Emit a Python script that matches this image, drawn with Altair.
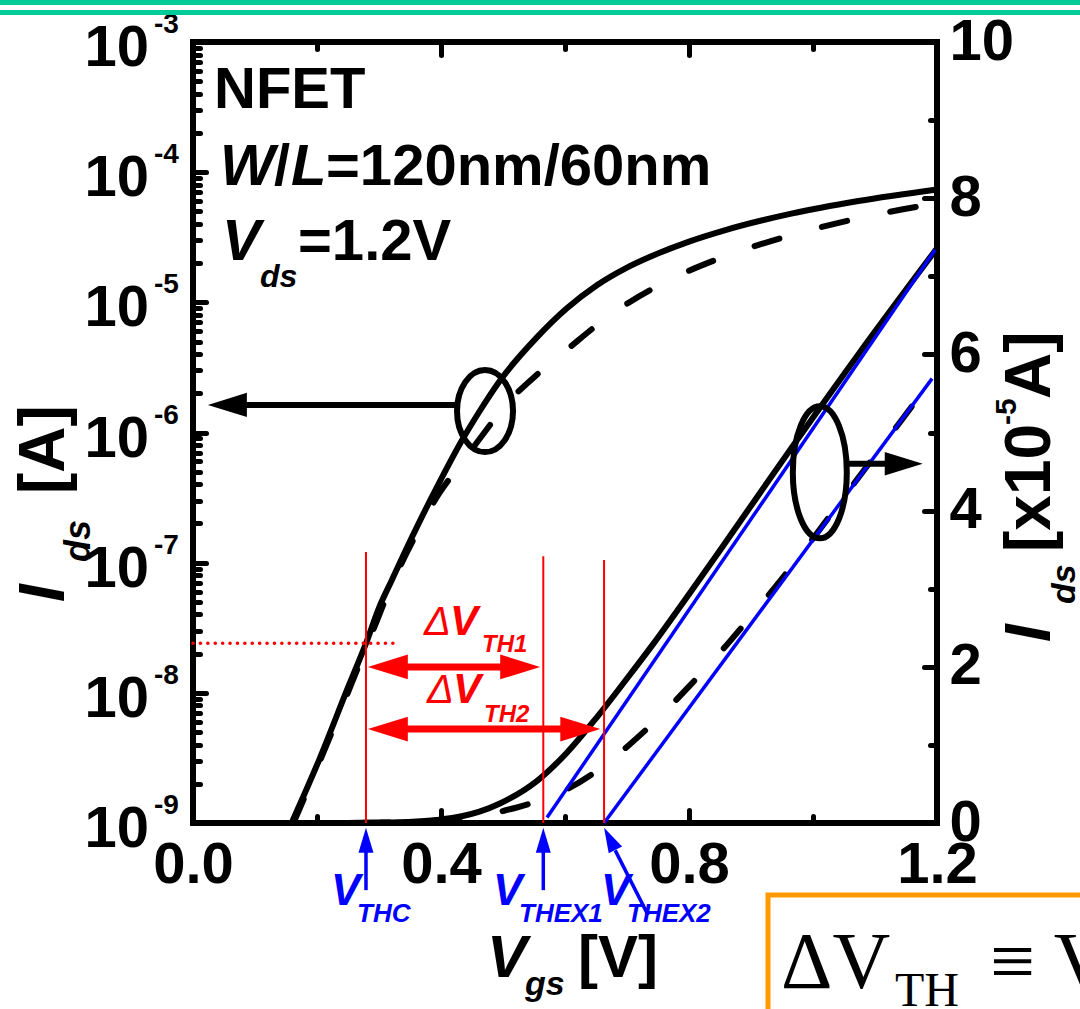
import altair as alt
import pandas as pd

# ---------------- values ----------------
# fresh device (solid curve), Vgs [V] and Ids [A]
vgs_fresh = [0.159, 0.204, 0.250, 0.279, 0.300, 0.321, 0.354, 0.397, 0.435, 0.462,
             0.495, 0.555, 0.603, 0.652, 0.700, 0.743, 0.800, 0.856, 0.965, 1.073, 1.200]
ids_fresh = [1.0e-9, 3.1e-9, 1.1e-8, 2.4e-8, 4.5e-8, 7.4e-8, 1.6e-7, 4.1e-7, 8.9e-7, 1.45e-6,
             2.5e-6, 5.4e-6, 9.0e-6, 1.36e-5, 1.85e-5, 2.30e-5, 2.93e-5, 3.56e-5, 4.80e-5, 6.00e-5, 7.36e-5]

# stressed device (dashed curve)
vgs_stress = [0.162, 0.206, 0.282, 0.324, 0.357, 0.397, 0.433, 0.470, 0.503, 0.559, 0.605,
              0.657, 0.702, 0.754, 0.799, 0.851, 0.897, 0.949, 0.994, 1.043, 1.091, 1.143, 1.192]
ids_stress = [1.0e-9, 3.1e-9, 2.4e-8, 7.4e-8, 1.55e-7, 3.4e-7, 5.8e-7, 1.0e-6, 1.6e-6, 2.9e-6, 4.4e-6,
              7.0e-6, 9.9e-6, 1.37e-5, 1.74e-5, 2.19e-5, 2.62e-5, 3.12e-5, 3.58e-5, 4.10e-5, 4.61e-5, 5.16e-5, 5.68e-5]

# extrapolation (tangent) lines on the linear axis [x1e-5 A]
tan_v0 = [0.571, 0.663]
tan_i0 = [0.07, 0.0]
tan_v1 = [1.197, 1.192]
tan_i1 = [7.34, 5.69]

# threshold voltages and their red markers
vth_labels = ["THC", "THEX1", "THEX2"]
vth_values = [0.279, 0.565, 0.663]
vth_line_top = [1.21e-7, 1.12e-7, 1.05e-7]

# delta-VTH double arrows
dvth_labels = ["TH1", "TH2"]
dvth_from = [0.282, 0.282]
dvth_to = [0.560, 0.657]
dvth_level = [1.58e-8, 5.27e-9]

# constant-current criterion (dotted red)
cc_current = [2.4e-8]
cc_vgs_end = [0.329]

# group ellipses and their arrows
ell_log_vgs, ell_log_ids = [0.471], [1.46e-6]
ell_lin_vgs, ell_lin_i = [1.011], [4.49]
arr_log_tip, arr_log_tail, arr_log_ids = [0.024], [0.426], [1.63e-6]
arr_lin_tip, arr_lin_tail, arr_lin_i = [1.177], [1.055], [4.60]

# blue VTH pointer arrows (below the axis, linear units)
ptr_tip_v = [0.279, 0.565, 0.663]
ptr_tip_i = [-0.06, -0.06, -0.06]
ptr_back_v = [0.279, 0.565, 0.681]
ptr_back_i = [-0.35, -0.35, -0.35]
ptr_tail_v = [0.279, 0.565, 0.734]
ptr_tail_i = [-0.86, -0.86, -1.18]
ptr_angle = [0, 0, 333]

# axis ticks
x_labels = [0.0, 0.4, 0.8, 1.2]
x_major_inner = [0.4, 0.8]
x_minor = [0.2, 0.6, 1.0]
log_decades = [1e-3, 1e-4, 1e-5, 1e-6, 1e-7, 1e-8, 1e-9]
log_exponents = ["-3", "-4", "-5", "-6", "-7", "-8", "-9"]
log_minor = [m * 10.0 ** e for e in range(-9, -3) for m in range(2, 10)]
lin_labels = [0, 2, 4, 6, 8, 10]
lin_major_inner = [2, 4, 6, 8]
lin_minor = [1, 3, 5, 7, 9]

# ---------------- layout / style ----------------
FONT = "Liberation Sans"
SERIF = "Liberation Serif"
W, H = 744, 781
PL, PT = 193, 42
RED, BLUE = "#FF0000", "#0000FF"

xs = alt.Scale(domain=[0.0, 1.2], nice=False, zero=False)
ylog = alt.Scale(type="log", domain=[1e-9, 1e-3], nice=False)
ylin = alt.Scale(domain=[0.0, 10.0], nice=False, zero=False)


def X(f, axis=None):
    return alt.X(f"{f}:Q", scale=xs, axis=axis)


def YL(f, axis=None):
    return alt.Y(f"{f}:Q", scale=ylog, axis=axis)


def YN(f, axis=None):
    return alt.Y(f"{f}:Q", scale=ylin, axis=axis)


def ellipse_path(a):
    k = 0.5523 * a
    return (f"M0,-1 C{k:.3f},-1 {a:.3f},-0.552 {a:.3f},0 C{a:.3f},0.552 {k:.3f},1 0,1 "
            f"C{-k:.3f},1 {-a:.3f},0.552 {-a:.3f},0 C{-a:.3f},-0.552 {-k:.3f},-1 0,-1 Z")


LEFT_HEAD = "M0,0 L2,-0.62 L2,0.62 Z"
RIGHT_HEAD = "M0,0 L-2,-0.62 L-2,0.62 Z"
UP_HEAD = "M0,0 L0.6,2 L-0.6,2 Z"

fresh = pd.DataFrame({"Vgs": vgs_fresh, "Ids": ids_fresh})
fresh["I5"] = fresh["Ids"] * 1e5
stress = pd.DataFrame({"Vgs": vgs_stress, "Ids": ids_stress})
stress["I5"] = stress["Ids"] * 1e5

line_style = dict(color="black", strokeWidth=6, interpolate="monotone", strokeJoin="round")
dash_style = dict(strokeDash=[26, 44], strokeCap="round")

log_solid = alt.Chart(fresh).mark_line(**line_style).encode(x=X("Vgs"), y=YL("Ids"))
log_dash = alt.Chart(stress).mark_line(**line_style, **dash_style).encode(x=X("Vgs"), y=YL("Ids"))
lin_solid = alt.Chart(fresh).mark_line(**line_style).encode(x=X("Vgs"), y=YN("I5"))
lin_dash = alt.Chart(stress).mark_line(**line_style, **dash_style).encode(x=X("Vgs"), y=YN("I5"))

tan_df = pd.DataFrame({"v0": tan_v0, "i0": tan_i0, "v1": tan_v1, "i1": tan_i1})
tangents = alt.Chart(tan_df).mark_rule(color=BLUE, strokeWidth=3.5).encode(
    x=X("v0"), y=YN("i0"), x2=alt.X2("v1"), y2=alt.Y2("i1"))

# right ellipse + arrow
ell_lin = alt.Chart(pd.DataFrame({"V": ell_lin_vgs, "I": ell_lin_i})).mark_point(
    shape=ellipse_path(27 / 66), size=132 ** 2, filled=False, color="black",
    strokeWidth=6, opacity=1).encode(x=X("V"), y=YN("I"))
arr_lin_df = pd.DataFrame({"tip": arr_lin_tip, "tail": arr_lin_tail, "I": arr_lin_i})
arr_lin_shaft = alt.Chart(arr_lin_df).transform_calculate(back="datum.tip - 0.05").mark_rule(
    color="black", strokeWidth=6).encode(x=X("tail"), x2=alt.X2("back"), y=YN("I"))
arr_lin_head = alt.Chart(arr_lin_df).mark_point(
    shape=RIGHT_HEAD, size=38 ** 2, filled=True, color="black", opacity=1).encode(x=X("tip"), y=YN("I"))

# blue pointer arrows
ptr_df = pd.DataFrame({"tv": ptr_tip_v, "ti": ptr_tip_i, "bv": ptr_back_v, "bi": ptr_back_i,
                       "lv": ptr_tail_v, "li": ptr_tail_i, "ang": ptr_angle})
ptr_shaft = alt.Chart(ptr_df).mark_rule(color=BLUE, strokeWidth=3.5).encode(
    x=X("bv"), y=YN("bi"), x2=alt.X2("lv"), y2=alt.Y2("li"))
ptr_head = alt.Chart(ptr_df).mark_point(shape=UP_HEAD, size=25 ** 2, filled=True, color=BLUE, opacity=1).encode(
    x=X("tv"), y=YN("ti"), angle=alt.Angle("ang:Q", scale=None))

# red annotations (log units)
vth_df = pd.DataFrame({"V": vth_values, "top": vth_line_top, "bottom": [1e-9] * 3})
red_v = alt.Chart(vth_df).mark_rule(color=RED, strokeWidth=2).encode(x=X("V"), y=YL("bottom"), y2=alt.Y2("top"))
cc_df = pd.DataFrame({"v0": [0.0], "v1": cc_vgs_end, "I": cc_current})
cc_line = alt.Chart(cc_df).mark_rule(color=RED, strokeWidth=3.5, strokeDash=[0.1, 7.3], strokeCap="round").encode(
    x=X("v0"), x2=alt.X2("v1"), y=YL("I"))
dv_df = pd.DataFrame({"a": dvth_from, "b": dvth_to, "I": dvth_level})
dv_shaft = alt.Chart(dv_df).transform_calculate(a2="datum.a + 0.05", b2="datum.b - 0.05").mark_rule(
    color=RED, strokeWidth=7).encode(x=X("a2"), x2=alt.X2("b2"), y=YL("I"))
dv_left = alt.Chart(dv_df).mark_point(shape=LEFT_HEAD, size=40 ** 2, filled=True, color=RED, opacity=1).encode(
    x=X("a"), y=YL("I"))
dv_right = alt.Chart(dv_df).mark_point(shape=RIGHT_HEAD, size=40 ** 2, filled=True, color=RED, opacity=1).encode(
    x=X("b"), y=YL("I"))

# left ellipse + arrow
ell_log = alt.Chart(pd.DataFrame({"V": ell_log_vgs, "I": ell_log_ids})).mark_point(
    shape=ellipse_path(28 / 41), size=82 ** 2, filled=False, color="black",
    strokeWidth=6, opacity=1).encode(x=X("V"), y=YL("I"))
arr_log_df = pd.DataFrame({"tip": arr_log_tip, "tail": arr_log_tail, "I": arr_log_ids})
arr_log_shaft = alt.Chart(arr_log_df).transform_calculate(back="datum.tip + 0.05").mark_rule(
    color="black", strokeWidth=6).encode(x=X("back"), x2=alt.X2("tail"), y=YL("I"))
arr_log_head = alt.Chart(arr_log_df).mark_point(
    shape=LEFT_HEAD, size=39 ** 2, filled=True, color="black", opacity=1).encode(x=X("tip"), y=YL("I"))

# log axis tick labels 10^n
dec_df = pd.DataFrame({"V": [0.0] * len(log_decades), "I": log_decades, "e": log_exponents})
tens = alt.Chart(dec_df).mark_text(text="10", align="right", baseline="alphabetic", dx=-44, dy=24,
                                   fontSize=58, fontWeight="bold", font=FONT, color="black").encode(
    x=X("V"), y=YL("I"))
exps = alt.Chart(dec_df).mark_text(align="left", baseline="alphabetic", dx=-39, dy=-9,
                                   fontSize=28, fontWeight="bold", font=FONT, color="black").encode(
    x=X("V"), y=YL("I"), text="e:N")

# ---------------- axes (inward ticks via offset axes) ----------------
def tick_axis(orient, values, size):
    off = -H if orient in ("top", "bottom") else -W
    return alt.Axis(orient=orient, values=values, offset=off, tickSize=size, tickWidth=5,
                    tickColor="black", tickCap="round", labels=False, domain=False, grid=False, title=None)


x_label_axis = alt.Axis(orient="bottom", values=x_labels, ticks=False, tickSize=0, domain=False, grid=False,
                        labelFontSize=58, labelFont=FONT, labelFontWeight="bold", labelColor="black",
                        labelPadding=13, labelFlush=False, labelOverlap=False, format=".1f", title=None)
y_lin_label_axis = alt.Axis(orient="right", values=lin_labels, ticks=False, tickSize=0, domain=False, grid=False,
                            labelFontSize=58, labelFont=FONT, labelFontWeight="bold", labelColor="black",
                            labelPadding=12, labelFlush=False, labelOverlap=False, labelBaseline="middle",
                            format="d", title=None)

holder_df = pd.DataFrame({"V": [0.6], "I": [1e-6], "L": [5.0]})


def holder_log(xaxis=None, yaxis=None):
    return alt.Chart(holder_df).mark_point(opacity=0, size=1).encode(x=X("V", xaxis), y=YL("I", yaxis))


def holder_lin(xaxis=None, yaxis=None):
    return alt.Chart(holder_df).mark_point(opacity=0, size=1).encode(x=X("V", xaxis), y=YN("L", yaxis))


log_curves = alt.layer(log_solid, log_dash)

lin_group = alt.layer(
    lin_solid, lin_dash, tangents, ell_lin, arr_lin_shaft, arr_lin_head, ptr_shaft, ptr_head,
    holder_lin(yaxis=y_lin_label_axis),
    holder_lin(yaxis=tick_axis("left", lin_major_inner, 13)),
    holder_lin(yaxis=tick_axis("left", lin_minor, 7)),
).resolve_axis(x="independent", y="independent")

log_annot = alt.layer(
    red_v, cc_line, dv_shaft, dv_left, dv_right, ell_log, arr_log_shaft, arr_log_head, tens, exps,
    holder_log(xaxis=x_label_axis, yaxis=tick_axis("right", log_decades, 13)),
    holder_log(xaxis=tick_axis("top", x_major_inner, 13), yaxis=tick_axis("right", log_minor, 7)),
    holder_log(xaxis=tick_axis("top", x_minor, 7)),
    holder_log(xaxis=tick_axis("bottom", x_major_inner, 13)),
    holder_log(xaxis=tick_axis("bottom", x_minor, 7)),
).resolve_axis(x="independent", y="independent")

# ---------------- free text / decoration (pixel positions on the page) ----------------
one = pd.DataFrame({"k": [0]})


def txt(text, px, py, size, italic=False, bold=True, color="black", angle=0, font=FONT):
    return alt.Chart(one).mark_text(
        text=text, fontSize=size, fontStyle="italic" if italic else "normal",
        fontWeight="bold" if bold else "normal", color=color, font=font,
        align="left", baseline="alphabetic", angle=angle,
    ).encode(x=alt.value(px - PL), y=alt.value(py - PT))


texts = [
    # text block
    txt("NFET", 214, 108, 58),
    txt("W", 220, 185, 58, italic=True),
    txt("/", 274, 185, 58),
    txt("L", 291, 185, 58, italic=True),
    txt("=120nm/60nm", 326, 185, 58),
    txt("V", 222, 260, 58, italic=True),
    txt("ds", 260, 287, 32, italic=True),
    txt("=1.2V", 298, 260, 58),
    # left axis title
    txt("I", 64, 602, 64, italic=True, angle=270),
    txt("ds", 90, 562, 36, italic=True, angle=270),
    txt("[A]", 64, 494, 64, angle=270),
    # right axis title
    txt("I", 1050, 642, 64, italic=True, angle=270),
    txt("ds", 1075, 604, 34, italic=True, angle=270),
    txt("[x10", 1050, 552, 64, angle=270),
    txt("-5", 1016, 425, 30, angle=270),
    txt(" A]", 1050, 399, 64, angle=270),
    # x axis title
    txt("V", 487, 977, 60, italic=True),
    txt("gs", 525, 995, 34, italic=True),
    txt("[V]", 578, 977, 60),
    # blue threshold labels
    txt("V", 331, 905, 44, italic=True, color=BLUE),
    txt("THC", 357, 922, 26, italic=True, color=BLUE),
    txt("V", 493, 905, 44, italic=True, color=BLUE),
    txt("THEX1", 519, 922, 26, italic=True, color=BLUE),
    txt("V", 601, 905, 44, italic=True, color=BLUE),
    txt("THEX2", 627, 922, 26, italic=True, color=BLUE),
    # red delta labels
    txt("\u0394", 424, 635, 40, italic=True, bold=False, color=RED),
    txt("V", 450, 635, 42, italic=True, color=RED),
    txt("TH1", 482, 652, 24, italic=True, color=RED),
    txt("\u0394", 427, 703, 40, italic=True, bold=False, color=RED),
    txt("V", 453, 703, 42, italic=True, color=RED),
    txt("TH2", 484, 722, 24, italic=True, color=RED),
]

teal = [alt.Chart(one).mark_rule(color="#00CC99", strokeWidth=5).encode(
    x=alt.value(-PL), x2=alt.value(1080 - PL), y=alt.value(yy - PT)) for yy in (2.5, 12.5)]

box = alt.Chart(one).mark_rect(fill="white", stroke="#FF9900", strokeWidth=5).encode(
    x=alt.value(768 - PL), x2=alt.value(1200 - PL), y=alt.value(895 - PT), y2=alt.value(1150 - PT))
box_texts = [
    txt("\u0394V", 781, 988, 80, bold=False, font=SERIF),
    txt("TH", 895, 1006, 48, bold=False, font=SERIF),
    txt("\u2261 V", 990, 988, 80, bold=False, font=SERIF),
]

chart = alt.layer(
    log_curves, lin_group, log_annot, *texts, *teal, box, *box_texts
).resolve_scale(y="independent").resolve_axis(x="independent", y="independent").properties(
    width=W, height=H,
    padding={"left": PL, "top": PT, "right": 1080 - PL - W, "bottom": 1009 - PT - H},
    autosize=alt.AutoSizeParams(type="none"),
).configure_view(stroke="black", strokeWidth=6).configure_axis(grid=False)

chart.save("out.html", embed_options={"renderer": "svg", "actions": False})
